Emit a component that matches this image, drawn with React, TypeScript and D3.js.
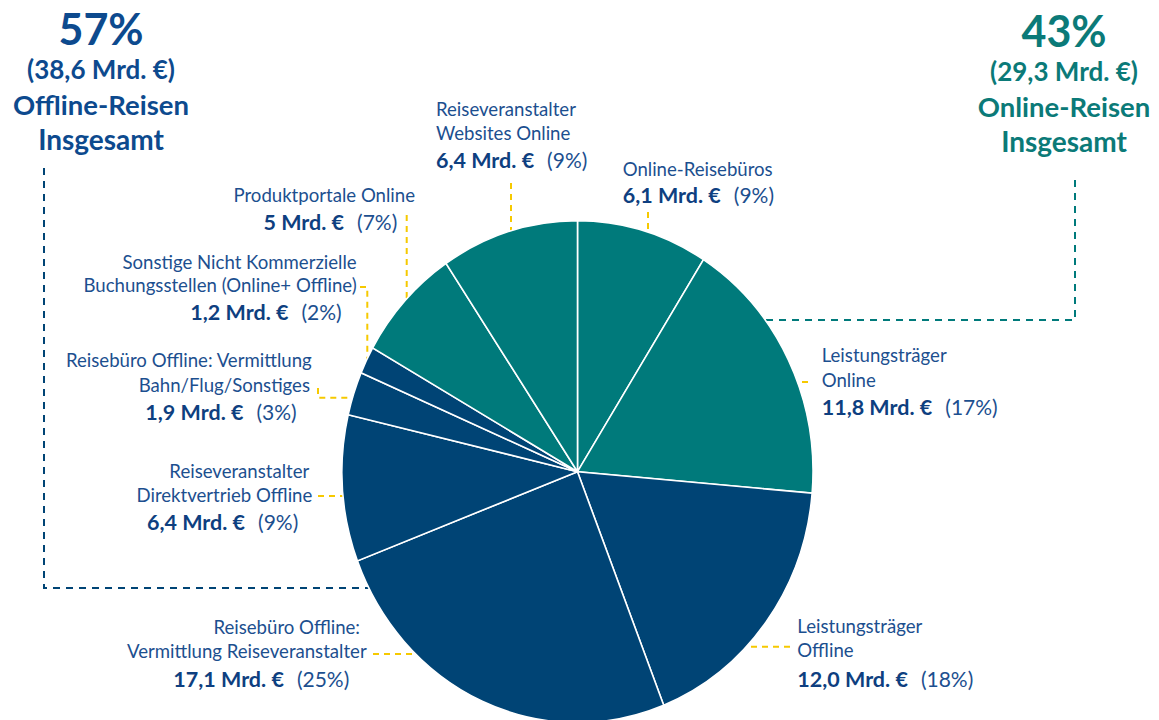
import React from 'react';
import * as d3 from 'd3';

// segments, clockwise from 12 o'clock
const segments = [
  'Online-Reisebüros',
  'Leistungsträger Online',
  'Leistungsträger Offline',
  'Reisebüro Offline: Vermittlung Reiseveranstalter',
  'Reiseveranstalter Direktvertrieb Offline',
  'Reisebüro Offline: Vermittlung Bahn/Flug/Sonstiges',
  'Sonstige Nicht Kommerzielle Buchungsstellen (Online+ Offline)',
  'Produktportale Online',
  'Reiseveranstalter Websites Online',
];
const values = [6.1, 11.8, 12.0, 17.1, 6.4, 1.9, 1.2, 5, 6.4];
const valueLabels = ['6,1', '11,8', '12,0', '17,1', '6,4', '1,9', '1,2', '5', '6,4'];
const percents = ['9%', '17%', '18%', '25%', '9%', '3%', '2%', '7%', '9%'];
const channel = ['online', 'online', 'offline', 'offline', 'offline', 'offline', 'offline', 'online', 'online'];
const labelLines = [
  ['Online-Reisebüros'],
  ['Leistungsträger', 'Online'],
  ['Leistungsträger', 'Offline'],
  ['Reisebüro Offline:', 'Vermittlung Reiseveranstalter'],
  ['Reiseveranstalter', 'Direktvertrieb Offline'],
  ['Reisebüro Offline: Vermittlung', 'Bahn/Flug/Sonstiges'],
  ['Sonstige Nicht Kommerzielle', 'Buchungsstellen (Online+ Offline)'],
  ['Produktportale Online'],
  ['Reiseveranstalter', 'Websites Online'],
];

const totalsPct = ['57%', '43%'];
const totalsValue = ['38,6', '29,3'];
const totalsName = ['Offline-Reisen', 'Online-Reisen'];

const W = 1159, H = 720;
const cx = 577.5, cy = 471.7, rx = 235.5, ry = 251;
const TEAL = '#007a7b', NAVY = '#004475';
const LABEL = '#1c4f8f', VALUE = '#0e3f80';
const YELLOW = '#f6c900';
const FONT = 'Lato, "Noto Sans", sans-serif';

// label layout: anchor, line positions [x, y], value position, leader start points, leader direction
type Lay = { a: 'start' | 'end'; l: number[][]; v: number[]; p: number[][]; d: 'up' | 'left' | 'right' };
const layout: Lay[] = [
  { a: 'start', l: [[622.7, 176]], v: [622.7, 203.3], p: [[648, 212]], d: 'up' },
  { a: 'start', l: [[821.7, 361.7], [821.7, 386.7]], v: [821.7, 415], p: [[808, 382]], d: 'right' },
  { a: 'start', l: [[797.3, 633.3], [797.3, 657.3]], v: [797.3, 686.7], p: [[790, 646.7]], d: 'right' },
  { a: 'end', l: [[360, 634], [366.7, 658.3]], v: [349.3, 686.7], p: [[373, 654]], d: 'left' },
  { a: 'end', l: [[309.3, 478.3], [312.3, 501.7]], v: [298.3, 530], p: [[318, 496]], d: 'left' },
  { a: 'end', l: [[311.7, 366.7], [310, 391.7]], v: [296.7, 420], p: [[318, 388], [318, 397.7]], d: 'left' },
  { a: 'end', l: [[356.7, 269], [356.7, 291.7]], v: [341.7, 320], p: [[360, 287], [367.3, 287]], d: 'up' },
  { a: 'end', l: [[415, 201.7]], v: [397.3, 230], p: [[406.7, 215]], d: 'up' },
  { a: 'start', l: [[436, 116], [436, 140]], v: [436, 168.3], p: [[511, 183]], d: 'up' },
];

// point on the ellipse edge, continuing the last leader point
const toEdge = (pt: number[], d: string) => {
  const [x, y] = pt;
  if (d === 'up') {
    const k = (x - cx) / rx;
    return [x, cy - ry * Math.sqrt(1 - k * k) + 4];
  }
  const k = (y - cy) / ry;
  const s = Math.sqrt(1 - k * k) * rx - 4;
  return [d === 'left' ? cx - s : cx + s, y];
};

const App = () => {
  const pie = d3.pie<number>().sort(null).value(d => d);
  const arcs = pie(values);
  const arc = d3.arc<d3.PieArcDatum<number>>().innerRadius(0).outerRadius(rx);
  const line = d3.line();

  const groupLines = [
    { pts: [[44, 168], [44, 588]], d: 'left', c: NAVY },
    { pts: [[1075, 180], [1075, 320]], d: 'right', c: TEAL },
  ];

  return (
    <svg width={W} height={H} style={{ position: 'absolute', left: 0, top: 0 }} fontFamily={FONT}>
      {groupLines.map((g, i) => (
        <path key={i} d={line([...g.pts, toEdge(g.pts[g.pts.length - 1], g.d)] as [number, number][]) || ''}
          fill="none" stroke={g.c} strokeWidth={2} strokeDasharray="7,6" />
      ))}

      {layout.map((ly, i) => (
        <path key={i} d={line([...ly.p, toEdge(ly.p[ly.p.length - 1], ly.d)] as [number, number][]) || ''}
          fill="none" stroke={YELLOW} strokeWidth={2} strokeDasharray="6,5" />
      ))}

      <g transform={`translate(${cx},${cy}) scale(1,${ry / rx})`}>
        {arcs.map((a, i) => (
          <path key={segments[i]} d={arc(a) || ''} fill={channel[i] === 'online' ? TEAL : NAVY}
            stroke="#fff" strokeWidth={1.6} vectorEffect="non-scaling-stroke" />
        ))}
      </g>

      {layout.map((ly, i) => (
        <g key={i} textAnchor={ly.a}>
          {labelLines[i].map((t, j) => (
            <text key={j} x={ly.l[j][0]} y={ly.l[j][1]} fontSize={18.6} fill={LABEL}>{t}</text>
          ))}
          <text x={ly.v[0]} y={ly.v[1]} fill={VALUE} fontSize={21.5}>
            <tspan fontWeight={700}>{valueLabels[i]} Mrd. €</tspan>
            <tspan dx={13} fontWeight={400} fontSize={21} fill={LABEL}>({percents[i]})</tspan>
          </text>
        </g>
      ))}

      {[0, 1].map(i => {
        const x = i === 0 ? 101 : 1064;
        const dy = i === 0 ? 0 : 2;
        const c = i === 0 ? '#0d4a8e' : '#0b7a78';
        return (
          <g key={i} textAnchor="middle" fill={c} fontWeight={700}>
            <text x={x} y={45 + dy} fontSize={43}>{totalsPct[i]}</text>
            <text x={x} y={79 + dy} fontSize={26}>({totalsValue[i]} Mrd. €)</text>
            <text x={x} y={115 + dy} fontSize={27.5}>{totalsName[i]}</text>
            <text x={x} y={150 + dy} fontSize={28}>Insgesamt</text>
          </g>
        );
      })}
    </svg>
  );
};

export default App;
